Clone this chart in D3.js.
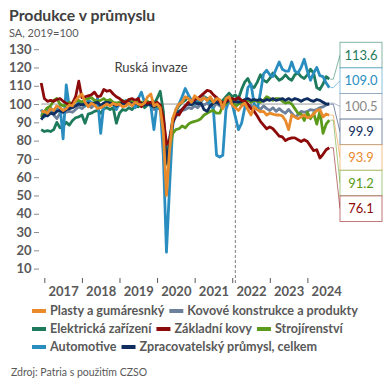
<!DOCTYPE html>
<html><head><meta charset="utf-8">
<script src="https://cdn.jsdelivr.net/npm/d3@7"></script>
<style>body{margin:0;background:#fff}svg{display:block}</style>
</head><body><svg id="c" width="390" height="390"></svg>
<script>
// index 0 = Dec 2016, index 92 = Aug 2024
const years = [2017, 2018, 2019, 2020, 2021, 2022, 2023, 2024];
const yTicks = [10, 20, 30, 40, 50, 60, 70, 80, 90, 100, 110, 120, 130];
const invasionIndex = 62; // Feb 2022

const plasty = [95.8,
 96,95,97.5,96.5,99,98,96.5,97.5,99.5,99,102,104,
 105.5,101,98.5,100.5,99.5,97.5,98,99,100,99,100.5,99.5,
 100,98.5,99,100.5,99,101,100,99.5,100.5,104,105.5,99,
 100,98,85,50,75,92,97,100,101,104,103,101,
 104.5,103,102,103.5,102,104,101,103,102.5,97.5,103,104,
 99.5,98,96.5,99,100.5,97,94,98.5,97,95.8,96,94,
 95,94.5,94,94,93.5,91,86,94,93,92,93,94,
 92.5,93,94.5,96.5,97,93,94.5,93.9];
const kovove = [95,
 93.5,95,96.5,94,92,95,96,95.5,96,95.5,97,98.5,
 97.5,99,99.5,98,99.5,100,99,100.5,99.5,101,100,98,
 99.5,100.5,99,101,100,99.5,101,100,99,101,100,97,
 98,97,92,76,82,90,93,95,96.5,97,98,97.5,
 99,98,100,99.5,100.5,99,98,100.5,99,98,100,101,
 102,100,102.5,99,100,98.5,99.5,97,98.5,97,99,97.5,
 96.5,98,96,97.5,96,95,97,95,93,94,96,95.5,
 96,97,96.5,97,98,98.5,99.5,100.5];
const elektro = [86,
 85,85.5,85,86,90,87,88,90,88.5,91,92.5,93,
 94,89.5,94.5,95,96,96.5,95,97.5,98,97,98,89.5,
 95,97,96.5,98,97,99,98.5,100,98,99.5,101,100,
 103,107,96,67,80,92,96,99,101,102,104,102,
 103,101,102,104,103,102,101,103.5,101,102,104,106,
 104,105,103,108,112,114,110,109,112,116,113,112,
 114,117,115,113,114,116,114,113,116,117,115,114,
 116,119,117,109,108,111,115,113.6];
const zakladni = [111.5,
 103,101.5,102,101.5,102.5,103,101.5,100.5,99.5,100.5,104,112.5,
 103.5,104,104.5,105,106.5,104,104.5,108,107,107.5,105.5,104,
 103,101.5,101,102.5,103,102,103,98.5,101,100.5,101,100,
 101,99.5,93,78,80,90,94.5,94,97,99,101,101.5,
 102.5,103,104.5,106,107.5,107,105,103.5,101.5,100.5,101.5,103,
 103,102.5,103.5,102,101.5,100,97.5,96,93.5,90.5,88.5,86.5,
 87.5,86.5,84.5,82.5,82,80,81,81.5,81.5,80.5,79.5,80.5,
 79.5,77,74.5,75,70.5,72.5,75,76.1];
const strojir = [93,
 96,98,99,102,103,100,99,99.5,101,100,101.5,102,
 101,102.5,103,103.5,102,101.5,102,103,101.5,102.5,101,100.5,
 101,102,101,102.5,101,102,100.5,101,100,101.5,100,98.5,
 99,98,90,70,76,84,86,86.5,88,87,89,90,
 90.5,91,92,94,95,96,96.5,95,95,99,100,102,
 103,98.5,100,101,101.5,102,101,102,101.5,101,102,104,
 103,102,103,103,101.5,100.5,101,100,97.5,95,94.5,91,
 95.5,92,95,89,96,84,89,91.2];
const automotive = [97,
 93,96,98,95,97,99,81,110.5,98,100,99,101,
 101,99,102,101,100,103,84,100,102,101,100,97,
 101,99,102,100,101,98,103,106.5,101,100,99,86,
 100,99,72,19,55,88,97,100,104,108.5,105,102,
 100,103,101,104,102,100,97,72,71,72,97,102,
 100,93,86,89.5,98,109,111,100,97,106,116.5,118.5,
 116,115,119,123,119,118,118,123,118,117,120,124.5,
 118,113,117,120,115.5,115,111.5,109];
const celkem = [91.5,
 94,93.5,95,94.5,96,96.5,95.5,97,97.5,98,99,100,
 99.5,100,100.5,100,100.5,101,99,100.5,101,100.5,100,99,
 100,100.5,100,101,100,100.5,100,100.5,99.5,100,99.5,98.5,
 99.5,99,90,68,78,90,94,96,97,99,100,99.5,
 101,100,100.5,97,96,99,100.5,101,100,99.5,101,102,
 101,101.5,101,101.5,102.5,103,102,102.5,102,102.5,101.5,102.5,
 102,103,102,102.5,103,102,103,102,103,102.5,101.5,102.5,
 103,102,101.5,102.5,102,101,100,99.9];

const names = ["Plasty a gumáresnký","Kovové konstrukce a produkty","Elektrická zařízení","Základní kovy","Strojírenství","Automotive","Zpracovatelský průmysl, celkem"];
const values = [plasty, kovove, elektro, zakladni, strojir, automotive, celkem];
const colors = ["#E98A2B","#6E819C","#1E7A5C","#8C0A0A","#5B9A1A","#2A8DC0","#0F2D5E"];
const labelText = ["#E98A2B","#8A8A8A","#1E7A5C","#8C0A0A","#5B9A1A","#2A8DC0","#0F2D5E"];
const drawOrder = [1,2,5,4,6,3,0];
const legendRows = [[0,1],[2,3,4],[5,6]];

const series = names.map((n,i)=>({name:n, values:values[i], color:colors[i], text:labelText[i]}));

const svg = d3.select("#c");
const FONT = "Lato, 'Open Sans', sans-serif";
const n = plasty.length;
const x = d3.scaleLinear().domain([0, n-1]).range([41.2, 329.3]);
const y = d3.scaleLinear().domain([10, 130]).range([268.6, 49.2]);

// title
svg.append("text").attr("x",9).attr("y",21).text("Produkce v průmyslu")
  .attr("font-family",FONT).attr("font-weight",700).attr("font-size",15.8).attr("fill","#404040");
svg.append("text").attr("x",9).attr("y",36.5).text("SA, 2019=100")
  .attr("font-family",FONT).attr("font-size",11).attr("fill","#595959");

// y axis
const ya = svg.append("g").attr("transform","translate(39,0)")
  .call(d3.axisLeft(y).tickValues(yTicks).tickSize(5).tickPadding(2.5));
ya.select(".domain").remove();
ya.selectAll("line").attr("stroke","#8c8c8c");
ya.selectAll("text").attr("font-family",FONT).attr("font-weight",700).attr("font-size",13).attr("fill","#595959");

// x axis
const tickIdx = years.map(yr => (yr-2017)*12+1);
const xa = svg.append("g").attr("transform","translate(0,278)")
  .call(d3.axisBottom(x).tickValues(tickIdx).tickSize(5).tickPadding(4).tickFormat((d,i)=>years[i]));
xa.select(".domain").remove();
xa.selectAll("line").attr("stroke","#595959");
const half = x(7)-x(1);
xa.selectAll("text").attr("transform",`translate(${half},0)`)
  .attr("font-family",FONT).attr("font-weight",700).attr("font-size",13).attr("fill","#595959");

// reference line at 100
svg.append("line").attr("x1",x(0)).attr("x2",x(n-1)).attr("y1",y(100)).attr("y2",y(100))
  .attr("stroke","#999").attr("stroke-width",1);

// invasion marker
svg.append("line").attr("x1",x(invasionIndex)).attr("x2",x(invasionIndex)).attr("y1",40).attr("y2",283)
  .attr("stroke","#7f7f7f").attr("stroke-width",1).attr("stroke-dasharray","3,2");
svg.append("text").attr("x",151).attr("y",72).attr("text-anchor","middle").text("Ruská invaze")
  .attr("font-family",FONT).attr("font-size",13).attr("fill","#404040");

// lines
const line = d3.line().x((d,i)=>x(i)).y(d=>y(d));
svg.append("g").selectAll("path").data(drawOrder.map(i=>series[i])).join("path")
  .attr("d",d=>line(d.values)).attr("fill","none").attr("stroke",d=>d.color)
  .attr("stroke-width",2.8).attr("stroke-linejoin","round");

// end labels
const sorted = series.slice().sort((a,b)=>b.values[n-1]-a.values[n-1]);
const boxX = 340, boxW = 42, boxTop = 42.3, boxH = 25.6;
const lg = svg.append("g");
sorted.forEach((s,k)=>{
  const by = boxTop + k*boxH;
  const ey = y(s.values[n-1]);
  lg.append("path").attr("d",`M${x(n-1)+1},${ey}L${x(n-1)+4},${ey}L${boxX},${by+boxH/2}`)
    .attr("fill","none").attr("stroke",s.color).attr("stroke-opacity",0.55).attr("stroke-width",1);
  lg.append("rect").attr("x",boxX).attr("y",by).attr("width",boxW).attr("height",boxH)
    .attr("fill","#fff").attr("stroke",s.color).attr("stroke-opacity",0.55).attr("stroke-width",1);
  lg.append("text").attr("x",boxX+boxW/2).attr("y",by+boxH/2+4.5).attr("text-anchor","middle")
    .text(d3.format(".1f")(s.values[n-1]))
    .attr("font-family",FONT).attr("font-size",13).attr("fill",s.text);
});

// legend
const rowY = [311, 329, 347];
legendRows.forEach((row,r)=>{
  let cx = 32;
  row.forEach(i=>{
    const s = series[i];
    svg.append("line").attr("x1",cx).attr("x2",cx+14).attr("y1",rowY[r]).attr("y2",rowY[r])
      .attr("stroke",s.color).attr("stroke-width",4);
    const t = svg.append("text").attr("x",cx+18).attr("y",rowY[r]+4.3).text(s.name)
      .attr("font-family",FONT).attr("font-weight",700).attr("font-size",12.6).attr("fill","#595959");
    cx += 18 + t.node().getComputedTextLength() + 5;
  });
});

svg.append("text").attr("x",11).attr("y",375.5).text("Zdroj: Patria s použitím CZSO")
  .attr("font-family",FONT).attr("font-size",10.5).attr("fill","#595959");
</script>
</body></html>
